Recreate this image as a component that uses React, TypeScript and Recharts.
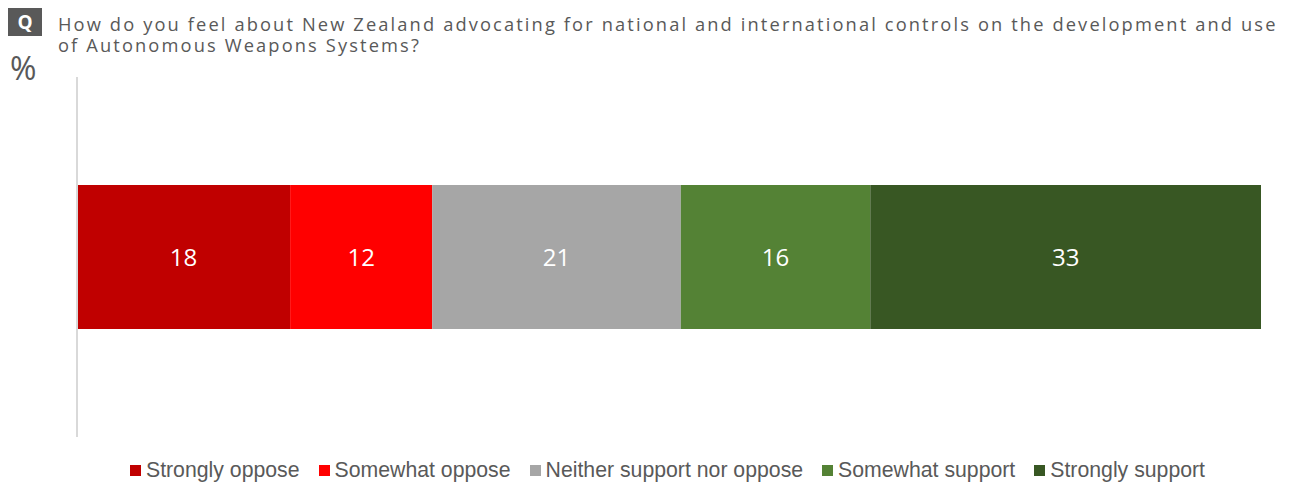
import React from 'react';
import { BarChart, Bar, XAxis, YAxis, LabelList, ReferenceLine } from 'recharts';

const categories = ['Q'];
const seriesNames = ['Strongly oppose', 'Somewhat oppose', 'Neither support nor oppose', 'Somewhat support', 'Strongly support'];
const seriesKeys = ['s1', 's2', 's3', 's4', 's5'];
const seriesValues = [18, 12, 21, 16, 33];
const seriesColors = ['#C00000', '#FF0000', '#A6A6A6', '#548235', '#385723'];

const data = categories.map((c) => {
  const row: any = { name: c };
  seriesKeys.forEach((k, i) => { row[k] = seriesValues[i]; });
  return row;
});

const titleLine1 = 'How do you feel about New Zealand advocating for national and international controls on the development and use';
const titleLine2 = 'of Autonomous Weapons Systems?';

export default function App() {
  return (
    <div style={{ position: 'absolute', left: 0, top: 0, width: 1290, height: 483, background: '#fff', overflow: 'hidden' }}>
      <div style={{ position: 'absolute', left: 8, top: 8, width: 34, height: 28, background: '#595959', color: '#fff', fontFamily: 'Open Sans', fontWeight: 700, fontSize: 19, lineHeight: '28px', textAlign: 'center' }}>Q</div>
      <div style={{ position: 'absolute', left: 10, top: 48, color: '#595959', fontFamily: 'Open Sans', fontWeight: 400, fontSize: 32, lineHeight: '40px' }}>%</div>
      <div style={{ position: 'absolute', left: 58, top: 13, color: '#595959', fontFamily: 'Open Sans', fontSize: 18.3, lineHeight: '21px', letterSpacing: 2.12, whiteSpace: 'nowrap' }}>
        <div>{titleLine1}</div>
        <div>{titleLine2}</div>
      </div>
      <div style={{ position: 'absolute', left: 0, top: 0 }}>
        <BarChart width={1290} height={483} data={data} layout="vertical" margin={{ top: 77, right: 29, bottom: 46, left: 77 }}>
          <XAxis type="number" domain={[0, 100]} hide />
          <YAxis type="category" dataKey="name" width={0} tick={false} tickLine={false} axisLine={false} />
          {seriesKeys.map((k, i) => (
            <Bar key={k} dataKey={k} name={seriesNames[i]} stackId="a" fill={seriesColors[i]} barSize={144} isAnimationActive={false}>
              <LabelList dataKey={k} position="center" fill="#FFFFFF" style={{ fontFamily: 'Open Sans', fontSize: 24 }} />
            </Bar>
          ))}
          <ReferenceLine x={0} stroke="#D9D9D9" strokeWidth={2} />
        </BarChart>
      </div>
      <div style={{ position: 'absolute', left: 0, top: 457, width: 1290, display: 'flex', justifyContent: 'center', fontFamily: 'Liberation Sans, Arial', fontSize: 21.25, color: '#595959', lineHeight: '26px' }}>
        <div style={{ display: 'flex', alignItems: 'center', marginLeft: 45 }}>
          {seriesNames.map((n, i) => (
            <div key={n} style={{ display: 'flex', alignItems: 'center', marginRight: i < seriesNames.length - 1 ? 19 : 0 }}>
              <span style={{ display: 'inline-block', width: 11, height: 11, background: seriesColors[i], marginRight: 5 }} />
              <span>{n}</span>
            </div>
          ))}
        </div>
      </div>
    </div>
  );
}
